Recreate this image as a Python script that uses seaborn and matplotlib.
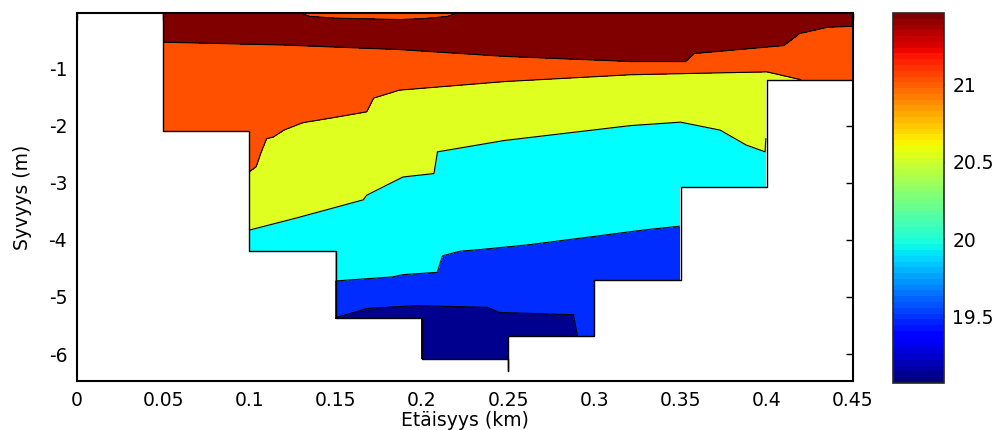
import numpy as np
import matplotlib
matplotlib.use("Agg")
import matplotlib.pyplot as plt
import seaborn as sns

sns.set_style("white")
plt.rcParams['font.family'] = ['DejaVu Sans']
plt.rcParams.update({'font.size': 13.5, 'axes.unicode_minus': False,
                     'text.color': 'k', 'axes.labelcolor': 'k',
                     'xtick.color': 'k', 'ytick.color': 'k'})

# measuring stations (km) and the bottom depth at each of them (m)
station_x = [0.05, 0.10, 0.15, 0.20, 0.25, 0.30, 0.35, 0.40, 0.45]
station_depth = [-2.1, -4.2, -5.37, -6.08, -6.3, -5.68, -4.7, -3.08, -1.2]

# contour levels (degC)
levels = [19.0, 19.5, 20.0, 20.5, 21.0, 21.3, 21.5]

# depth of each isotherm along the section
# cool surface patch (21.3), positive = not present
patch_x = [0.05, 0.118, 0.135, 0.15, 0.187, 0.20, 0.215, 0.232, 0.45]
patch_z = [0.1, 0.1, -0.09, -0.12, -0.145, -0.13, -0.09, 0.1, 0.1]
# 21.3
iso213_x = [0.05, 0.12, 0.187, 0.248, 0.321, 0.353, 0.358, 0.41, 0.419, 0.435, 0.45]
iso213_z = [-0.54, -0.59, -0.67, -0.79, -0.88, -0.88, -0.74, -0.60, -0.39, -0.28, -0.26]
# 21.0
iso210_x = [0.05, 0.10, 0.104, 0.107, 0.110, 0.114, 0.120, 0.131, 0.151, 0.168, 0.172,
            0.187, 0.248, 0.321, 0.40, 0.42, 0.425, 0.45]
iso210_z = [-2.5, -2.81, -2.72, -2.46, -2.23, -2.2, -2.08, -1.95, -1.85, -1.76, -1.52,
            -1.38, -1.23, -1.11, -1.06, -1.2, -1.3, -1.3]
# 20.5
iso205_x = [0.05, 0.10, 0.127, 0.166, 0.168, 0.189, 0.207, 0.209, 0.248, 0.321, 0.35,
            0.373, 0.388, 0.399, 0.401, 0.45]
iso205_z = [-2.8, -3.83, -3.62, -3.3, -3.22, -2.9, -2.84, -2.46, -2.26, -2.0, -1.94,
            -2.08, -2.34, -2.46, -1.5, -1.5]
# 20.0
iso200_x = [0.05, 0.10, 0.149, 0.15, 0.183, 0.189, 0.209, 0.212, 0.222, 0.234, 0.261,
            0.30, 0.328, 0.35, 0.40, 0.402, 0.45]
iso200_z = [-3.0, -4.4, -4.72, -4.72, -4.65, -4.61, -4.57, -4.28, -4.2, -4.17, -4.09,
            -3.94, -3.83, -3.76, -3.3, -1.8, -1.8]
# 19.5
iso195_x = [0.05, 0.10, 0.15, 0.164, 0.168, 0.197, 0.238, 0.245, 0.288, 0.291, 0.30,
            0.35, 0.40, 0.402, 0.45]
iso195_z = [-3.2, -4.6, -5.36, -5.24, -5.2, -5.15, -5.18, -5.27, -5.31, -5.8, -5.8,
            -5.0, -3.5, -2.1, -2.1]

band_colors = ['#00008F', '#002CFF', '#00FFFF', '#DFFF20', '#FF5000', '#800000']

# grid for the section
xg = np.linspace(0.05, 0.45, 801)
zg = np.linspace(0.0, -6.5, 1301)

bp = np.interp(xg, patch_x, patch_z)
b1 = np.interp(xg, iso213_x, iso213_z)
b2 = np.minimum(np.interp(xg, iso210_x, iso210_z), b1 - 0.01)
b3 = np.minimum(np.interp(xg, iso205_x, iso205_z), b2 - 0.01)
b4 = np.minimum(np.interp(xg, iso200_x, iso200_z), b3 - 0.01)
b5 = np.minimum(np.interp(xg, iso195_x, iso195_z), b4 - 0.01)

T = np.empty((len(zg), len(xg)))
for j in range(len(xg)):
    zk = np.array([bp[j] + 0.2, bp[j], (bp[j] + b1[j]) / 2, b1[j], b2[j], b3[j], b4[j], b5[j], -8.0])
    tk = [21.2, 21.3, 21.4, 21.3, 21.0, 20.5, 20.0, 19.5, 19.2]
    T[:, j] = np.interp(-zg, -zk, tk)

# bottom mask: each gap between two stations goes down to the shallower one
band = np.clip(np.searchsorted(station_x, xg, side='right') - 1, 0, len(station_x) - 2)
sd = np.array(station_depth)
bottom = np.maximum(sd[band], sd[band + 1])
T = np.ma.masked_where(zg[:, None] < bottom[None, :] - 1e-9, T)

fig = plt.figure(figsize=(10.02, 4.30), dpi=100)
ax = fig.add_axes([0.0768, 0.1140, 0.7745, 0.8558])
cax = fig.add_axes([0.8912, 0.1093, 0.0509, 0.8605])

X, Z = np.meshgrid(xg, zg)
ax.contourf(X, Z, T, levels=levels, colors=band_colors)
ax.contour(X, Z, T, levels=levels[1:-1], colors='k', linewidths=0.8)

# outline of the section
gaps = [max(a, b) for a, b in zip(station_depth[:-1], station_depth[1:])]
ox, oz = [], []
prev = 0.0
for i, x in enumerate(station_x):
    nxt = gaps[i] if i < len(gaps) else 0.0
    ox += [x, x, x]
    oz += [prev, station_depth[i], nxt]
    prev = nxt
ax.plot(ox, oz, color='k', lw=1.0)

ax.set_xlim(0, 0.45)
ax.set_ylim(-6.47, -0.03)
ax.set_xticks(np.arange(0, 0.451, 0.05))
ax.set_xticklabels(['0', '0.05', '0.1', '0.15', '0.2', '0.25', '0.3', '0.35', '0.4', '0.45'])
ax.set_yticks([-6, -5, -4, -3, -2, -1])
ax.tick_params(direction='in', top=True, right=True, length=5, width=1, pad=7)
for s in ax.spines.values():
    s.set_linewidth(1.5)
    s.set_color('k')
ax.set_xlabel('Etäisyys (km)', labelpad=1)
ax.set_ylabel('Syvyys (m)', labelpad=12)

sm = plt.cm.ScalarMappable(cmap=plt.get_cmap('jet', 64), norm=plt.Normalize(19.07, 21.46))
cb = fig.colorbar(sm, cax=cax, ticks=[19.5, 20, 20.5, 21])
cb.ax.set_yticklabels(['19.5', '20', '20.5', '21'])
cax.tick_params(direction='in', left=True, right=True, length=5, width=1, pad=6)
cb.outline.set_linewidth(1.2)

plt.savefig('out.png', dpi=100)
